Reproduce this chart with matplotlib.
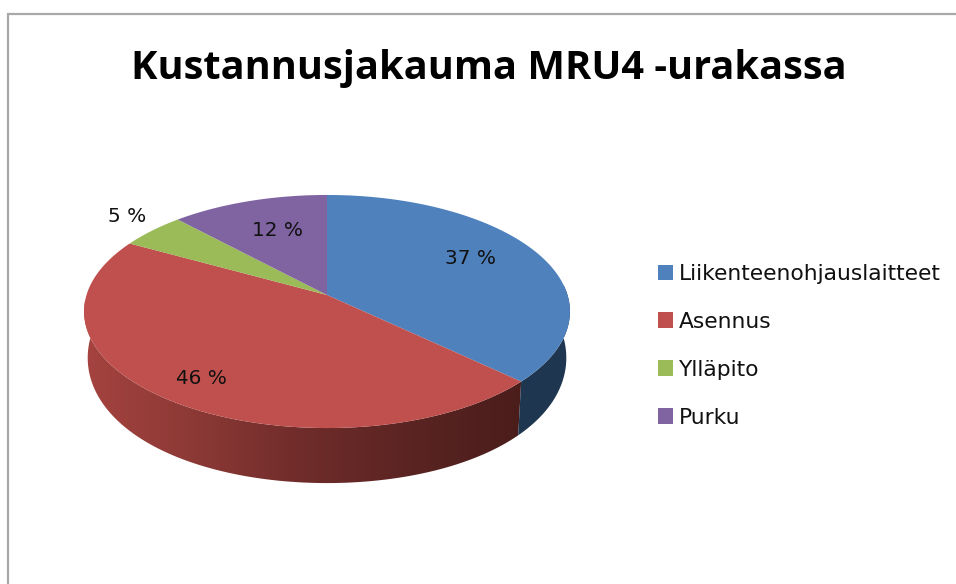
import matplotlib
matplotlib.use('Agg')
import matplotlib.pyplot as plt
from matplotlib.colors import LinearSegmentedColormap
from matplotlib.patches import Patch, Polygon
import numpy as np

labels = ['Liikenteenohjauslaitteet', 'Asennus', 'Ylläpito', 'Purku']
shares = [37, 46, 5, 12]
colors = ['#4F81BD', '#C0504D', '#9BBB59', '#8064A2']
label_text = ['37 %', '46 %', '5 %', '12 %']

# pie geometry, in picture pixels
cx, cy = 327, 295
a, b, k = 240.5, 114.2, 0.1416


def top_rim(t):
    u, v = np.sin(t), np.cos(t)
    d = 1 + k * v
    return cx + a * u / d, cy - b * v / d


def low_rim(t):
    x, y = top_rim(t)
    # rim bulges a little lower towards the sides of the pie
    bulge = 7 * np.sin(t) ** 2 * np.clip(-np.cos(t), 0, 1)
    return cx + (x - cx) * 0.985, cy + 44 + (y - cy) * 1.083 + bulge


fig = plt.figure(figsize=(9.56, 5.84), dpi=100)
ax = fig.add_axes([0, 0, 1, 1])
ax.axis('off')

edges = np.radians(np.concatenate([[0], np.cumsum(shares)]) * 3.6)


def side_poly(t0, t1):
    t = np.linspace(t0, t1, 120)
    x0, y0 = top_rim(t)
    x1, y1 = low_rim(t[::-1])
    return np.column_stack([np.r_[x0, x1], np.r_[y0, y1]])


# front sides
ax.add_patch(Polygon(side_poly(np.radians(85), edges[1]), fc='#1F3650', ec='none'))
red_side = Polygon(side_poly(edges[1], edges[2]), fc='none', ec='none')
ax.add_patch(red_side)
shade = LinearSegmentedColormap.from_list('shade', ['#A5433F', '#8C3936', '#6F2C2A', '#5A2422', '#4A1D1B'])
img = ax.imshow(np.linspace(0, 1, 256)[None, :], cmap=shade, extent=[84, 522, 490, 300], aspect='auto')
img.set_clip_path(red_side)

# top surface
for i, c in enumerate(colors):
    t = np.linspace(edges[i], edges[i + 1], 150)
    x, y = top_rim(t)
    ax.fill(np.r_[cx, x], np.r_[cy, y], color=c, lw=0)

# value labels
label_pos = [(471, 258), (201, 379), (127, 217), (277.5, 230)]
for s, (x, y) in zip(label_text, label_pos):
    ax.text(x, y, s, ha='center', va='center', fontsize=14.4, color='#111111', family='DejaVu Sans')

ax.text(489, 69, 'Kustannusjakauma MRU4 -urakassa', ha='center', va='center',
        fontsize=28.6, fontweight='bold', family='Open Sans', color='black')

handles = [Patch(fc=c, ec='none') for c in colors]
ax.legend(handles, labels, loc='upper left', bbox_to_anchor=(658, 264), bbox_transform=ax.transData,
          frameon=False, prop={'family': 'DejaVu Sans', 'size': 15.7}, handlelength=0.69, handleheight=0.73,
          handletextpad=0.28, labelspacing=1.28, borderpad=0, borderaxespad=0, labelcolor='#111111')

# chart frame, cut off by the screenshot on the right and bottom
ax.plot([8.5, 8.5, 956], [584, 14, 14], color='#A8A8A8', lw=1.6, solid_joinstyle='miter')

ax.set_xlim(0, 956)
ax.set_ylim(584, 0)
fig.savefig('out.png', dpi=100)
